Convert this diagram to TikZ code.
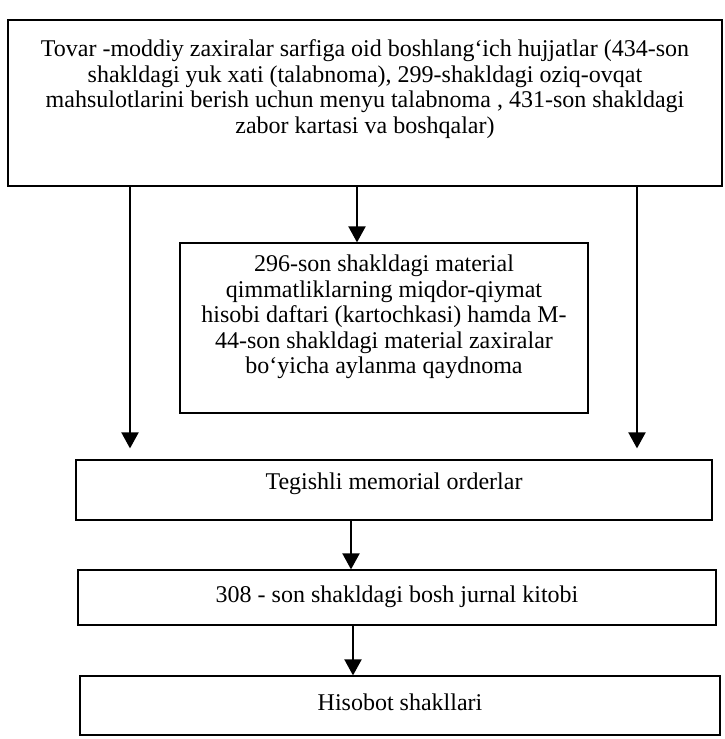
\documentclass[tikz,border=0pt]{standalone}
\usepackage{fontspec}
\setmainfont{Liberation Serif}
\usetikzlibrary{arrows.meta}
\begin{document}
\begin{tikzpicture}[x=1pt,y=-1pt,
  box/.style={draw,line width=1.2pt,align=center,inner sep=0pt},
  arr/.style={line width=2pt,-{Triangle[length=16pt,width=17pt]}},
  txt/.style={font=\fontsize{24}{25.5}\selectfont}]
\useasboundingbox (0,0) rectangle (725,739);
% boxes
\node[box,minimum width=714pt,minimum height=166pt] (top) at (365,103) {};
\node[txt,align=center] at (365,89) {Tovar -moddiy zaxiralar sarfiga oid boshlang‘ich hujjatlar (434-son\\shakldagi yuk xati (talabnoma), 299-shakldagi oziq-ovqat\\mahsulotlarini berish uchun menyu talabnoma , 431-son shakldagi\\zabor kartasi va boshqalar)};
\node[box,minimum width=408pt,minimum height=170pt] (mid) at (384,328) {};
\node[txt,align=center] at (384,317) {296-son shakldagi material\\qimmatliklarning miqdor-qiymat\\hisobi daftari (kartochkasi) hamda M-\\44-son shakldagi material zaxiralar\\bo‘yicha aylanma qaydnoma};
\node[box,minimum width=636pt,minimum height=60pt] (teg) at (394,490) {};
\node[txt] at (394,484) {Tegishli memorial orderlar};
\node[box,minimum width=638pt,minimum height=55pt] (bosh) at (397,597.5) {};
\node[txt] at (397,597) {308 - son shakldagi bosh jurnal kitobi};
\node[box,minimum width=640pt,minimum height=59pt] (his) at (400,705.5) {};
\node[txt] at (400,702) {Hisobot shakllari};
% arrow start coordinates
\coordinate (a1) at (130,0);
\coordinate (a2) at (357,0);
\coordinate (a3) at (637,0);
\coordinate (a4) at (351,0);
\coordinate (a5) at (353,0);
% arrows
\draw[arr] (a1 |- top.south) -- ([yshift=11pt]a1 |- teg.north);
\draw[arr] (a2 |- top.south) -- (a2 |- mid.north);
\draw[arr] (a3 |- top.south) -- ([yshift=11pt]a3 |- teg.north);
\draw[arr] (a4 |- teg.south) -- (a4 |- bosh.north);
\draw[arr] (a5 |- bosh.south) -- (a5 |- his.north);
\end{tikzpicture}
\end{document}
